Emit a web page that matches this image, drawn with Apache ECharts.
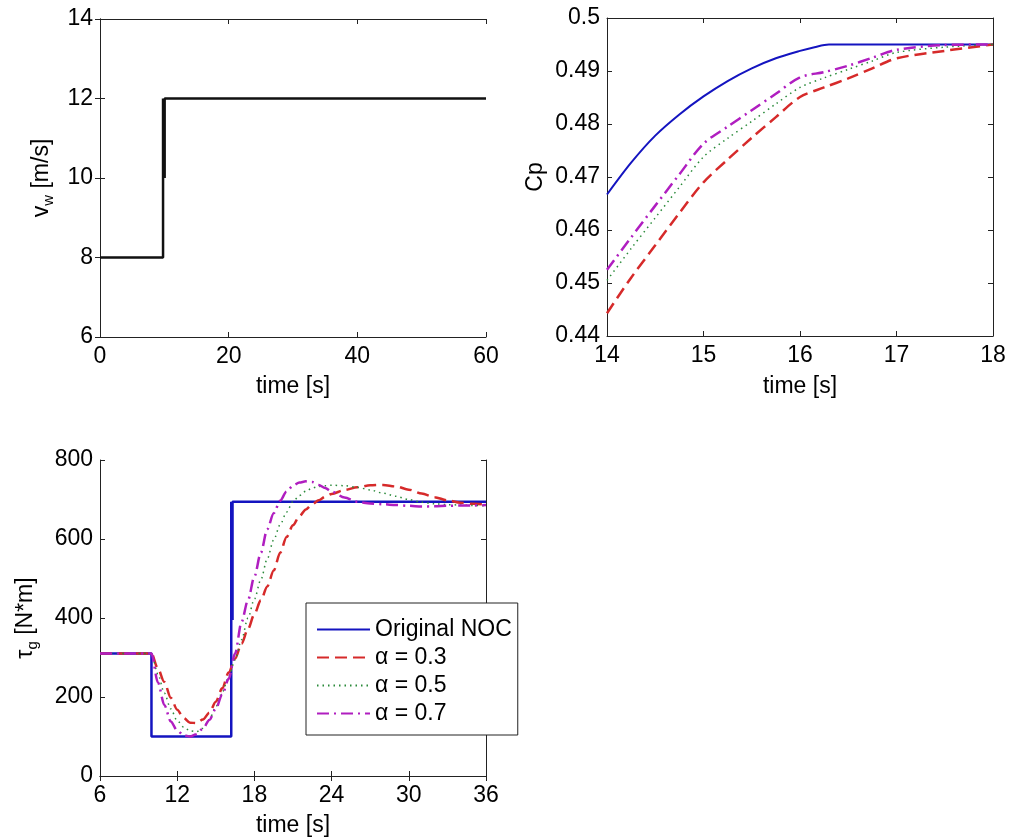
<!DOCTYPE html>
<html>
<head>
<meta charset="utf-8">
<script src="https://cdn.jsdelivr.net/npm/echarts@6/dist/echarts.min.js"></script>
<style>
html,body{margin:0;padding:0;background:#fff;}
#chart{width:1011px;height:838px;}
</style>
</head>
<body>
<div id="chart"></div>
<script>
// ---------- DATA ----------
// Wind speed (top-left)
const windTime  = [0, 9.8, 9.8, 10.05, 10.05, 10.05, 60];
const windSpeed = [8, 8, 12, 12, 10, 12, 12];

// Power coefficient Cp (top-right)
const cpNocTime = [14, 14.25, 14.5, 14.75, 15, 15.25, 15.5, 15.75, 16, 16.15, 16.3, 18];
const cpNoc     = [0.4667, 0.4727, 0.4778, 0.4818, 0.4852, 0.4881, 0.4905, 0.4924, 0.4938, 0.4945, 0.4950, 0.4950];
const cpTime    = [14, 14.25, 14.5, 14.75, 15, 15.25, 15.5, 15.75, 16, 16.25, 16.5, 16.75, 17, 17.5, 18];
const cpA03     = [0.4443, 0.4510, 0.4571, 0.4632, 0.4690, 0.4733, 0.4774, 0.4813, 0.4851, 0.4869, 0.4886, 0.4905, 0.4924, 0.4938, 0.4950];
const cpA05     = [0.4505, 0.4565, 0.4623, 0.4681, 0.4738, 0.4773, 0.4805, 0.4838, 0.4869, 0.4887, 0.4903, 0.4919, 0.4935, 0.4945, 0.4950];
const cpA07     = [0.4525, 0.4586, 0.4646, 0.4705, 0.4763, 0.4795, 0.4826, 0.4857, 0.4888, 0.4898, 0.4910, 0.4925, 0.4940, 0.4949, 0.4950];

// Generator torque (bottom-left)
const tqNocTime = [6, 10, 10, 16.2, 16.2, 16.3, 16.3, 16.3, 36];
const tqNoc     = [310, 310, 100, 100, 694, 694, 395, 694, 694];
const tqTime    = [6, 8, 10, 10.5, 11, 11.5, 12, 12.5, 13, 13.5, 14, 14.5, 15, 15.5, 16, 16.5, 17, 17.5, 18, 18.5, 19, 19.5, 20, 20.5, 21, 21.5, 22, 22.5, 23, 23.5, 24, 25, 26, 27, 28, 29, 30, 31, 32, 33, 34, 35, 36];
const tqA03     = [310, 310, 310, 272, 238, 198, 168, 147, 135, 134, 143, 160, 188, 222, 262, 297, 335, 372, 410, 445, 480, 520, 565, 605, 635, 658, 675, 688, 698, 707, 714, 724, 731, 736, 737, 733, 725, 715, 706, 698, 692, 689, 687];
const tqA05     = [310, 310, 310, 258, 210, 170, 140, 124, 114, 112, 121, 143, 175, 212, 252, 294, 345, 400, 448, 497, 550, 598, 636, 668, 695, 710, 721, 729, 733, 735, 736, 735, 731, 724, 716, 708, 700, 693, 689, 687, 686, 685, 684];
const tqA07     = [310, 310, 310, 237, 180, 138, 115, 103, 100, 106, 120, 142, 170, 206, 246, 310, 390, 445, 505, 565, 625, 665, 697, 720, 735, 743, 746, 744, 737, 729, 720, 705, 694, 690, 688, 686, 684, 682, 683, 684, 685, 685, 686];

const seriesNames = ['Original NOC', 'α = 0.3', 'α = 0.5', 'α = 0.7'];

// ---------- STYLE ----------
const FONT = '"Liberation Sans", Arial, Helvetica, sans-serif';
const AX = '#222';
const C_BLUE = '#1414c0', C_RED = '#d62a2a', C_GREEN = '#2a8a3a', C_PURPLE = '#b01ec0';

function zip(xs, ys) { return xs.map((x, i) => [x, ys[i]]); }

function mainX(grid, min, max, interval, name, gap) {
  return {
    type: 'value', gridIndex: grid, position: 'bottom', min, max, interval,
    name, nameLocation: 'middle', nameGap: gap,
    nameTextStyle: { fontSize: 23, color: '#000', fontFamily: FONT },
    axisLine: { show: true, lineStyle: { color: AX, width: 1 } },
    axisTick: { show: true, inside: true, length: 5, lineStyle: { color: AX } },
    axisLabel: { fontSize: 23, color: '#000', fontFamily: FONT, margin: 8 },
    splitLine: { show: false }
  };
}
function mirrorX(grid, min, max, interval) {
  return {
    type: 'value', gridIndex: grid, position: 'top', min, max, interval,
    axisLine: { show: true, lineStyle: { color: AX, width: 1 } },
    axisTick: { show: true, inside: true, length: 5, lineStyle: { color: AX } },
    axisLabel: { show: false }, splitLine: { show: false }
  };
}
function mainY(grid, min, max, interval, name, gap, rich) {
  return {
    type: 'value', gridIndex: grid, position: 'left', min, max, interval,
    name, nameLocation: 'middle', nameGap: gap, nameRotate: 90,
    nameTextStyle: { fontSize: 23, color: '#000', fontFamily: FONT, rich },
    axisLine: { show: true, lineStyle: { color: AX, width: 1 } },
    axisTick: { show: true, inside: true, length: 5, lineStyle: { color: AX } },
    axisLabel: { fontSize: 23, color: '#000', fontFamily: FONT, margin: 7 },
    splitLine: { show: false }
  };
}
function mirrorY(grid, min, max, interval) {
  return {
    type: 'value', gridIndex: grid, position: 'right', min, max, interval,
    axisLine: { show: true, lineStyle: { color: AX, width: 1 } },
    axisTick: { show: true, inside: true, length: 5, lineStyle: { color: AX } },
    axisLabel: { show: false }, splitLine: { show: false }
  };
}

const subRich = {
  n: { fontSize: 23, fontFamily: FONT, color: '#000', lineHeight: 28, verticalAlign: 'middle' },
  s: { fontSize: 15, fontFamily: FONT, color: '#000', lineHeight: 12, verticalAlign: 'bottom' }
};

const chart = echarts.init(document.getElementById('chart'), null, { renderer: 'canvas' });

const option = {
  animation: false,
  backgroundColor: '#fff',
  textStyle: { fontFamily: FONT },
  grid: [
    { left: 100, top: 19, width: 386, height: 318 },
    { left: 607, top: 18, width: 386, height: 318 },
    { left: 100, top: 460, width: 386, height: 316 }
  ],
  xAxis: [
    mainX(0, 0, 60, 20, 'time [s]', 38),
    mirrorX(0, 0, 60, 20),
    mainX(1, 14, 18, 1, 'time [s]', 39),
    mirrorX(1, 14, 18, 1),
    mainX(2, 6, 36, 6, 'time [s]', 38),
    mirrorX(2, 6, 36, 6)
  ],
  yAxis: [
    mainY(0, 6, 14, 2, '{n|v}{s|w}{n| [m/s]}', 44, subRich),
    mirrorY(0, 6, 14, 2),
    mainY(1, 0.44, 0.5, 0.01, 'Cp', 60, undefined),
    mirrorY(1, 0.44, 0.5, 0.01),
    mainY(2, 0, 800, 200, '{n|τ}{s|g}{n| [N*m]}', 60, subRich),
    mirrorY(2, 0, 800, 200)
  ],
  legend: {
    data: seriesNames,
    orient: 'vertical',
    left: 306, top: 603,
    itemWidth: 53, itemHeight: 14, itemGap: 5,
    padding: [15, 6, 10, 10],
    backgroundColor: '#fff',
    borderColor: '#222', borderWidth: 1,
    itemStyle: { opacity: 0, color: 'rgba(0,0,0,0)', borderWidth: 0 },
    textStyle: { fontSize: 23, color: '#000', fontFamily: FONT },
    selectedMode: false
  },
  series: [
    { type: 'line', name: 'wind', xAxisIndex: 0, yAxisIndex: 0, data: zip(windTime, windSpeed),
      symbol: 'none', lineStyle: { color: '#111', width: 2.5 }, itemStyle: { color: '#111' } },

    { type: 'line', name: 'Cp NOC', xAxisIndex: 2, yAxisIndex: 2, data: zip(cpNocTime, cpNoc),
      symbol: 'none', smooth: 0.3, lineStyle: { color: C_BLUE, width: 2 }, itemStyle: { color: C_BLUE } },
    { type: 'line', name: 'Cp 0.3', xAxisIndex: 2, yAxisIndex: 2, data: zip(cpTime, cpA03),
      symbol: 'none', smooth: 0.3, lineStyle: { color: C_RED, width: 2.5, type: [12, 6] }, itemStyle: { color: C_RED } },
    { type: 'line', name: 'Cp 0.5', xAxisIndex: 2, yAxisIndex: 2, data: zip(cpTime, cpA05),
      symbol: 'none', smooth: 0.3, lineStyle: { color: C_GREEN, width: 1.5, type: [1.5, 4] }, itemStyle: { color: C_GREEN } },
    { type: 'line', name: 'Cp 0.7', xAxisIndex: 2, yAxisIndex: 2, data: zip(cpTime, cpA07),
      symbol: 'none', smooth: 0.3, lineStyle: { color: C_PURPLE, width: 2.5, type: [12, 5, 2, 5] }, itemStyle: { color: C_PURPLE } },

    { type: 'line', name: seriesNames[0], xAxisIndex: 4, yAxisIndex: 4, data: zip(tqNocTime, tqNoc),
      symbol: 'none', lineStyle: { color: C_BLUE, width: 2.5 }, itemStyle: { color: C_BLUE } },
    { type: 'line', name: seriesNames[1], xAxisIndex: 4, yAxisIndex: 4, data: zip(tqTime, tqA03),
      symbol: 'none', smooth: 0.3, smoothMonotone: 'x', lineStyle: { color: C_RED, width: 2.5, type: [12, 6] }, itemStyle: { color: C_RED } },
    { type: 'line', name: seriesNames[2], xAxisIndex: 4, yAxisIndex: 4, data: zip(tqTime, tqA05),
      symbol: 'none', smooth: 0.3, smoothMonotone: 'x', lineStyle: { color: C_GREEN, width: 1.5, type: [1.5, 4] }, itemStyle: { color: C_GREEN } },
    { type: 'line', name: seriesNames[3], xAxisIndex: 4, yAxisIndex: 4, data: zip(tqTime, tqA07),
      symbol: 'none', smooth: 0.3, smoothMonotone: 'x', lineStyle: { color: C_PURPLE, width: 2.5, type: [12, 5, 2, 5] }, itemStyle: { color: C_PURPLE } }
  ]
};

chart.setOption(option);
</script>
</body>
</html>
